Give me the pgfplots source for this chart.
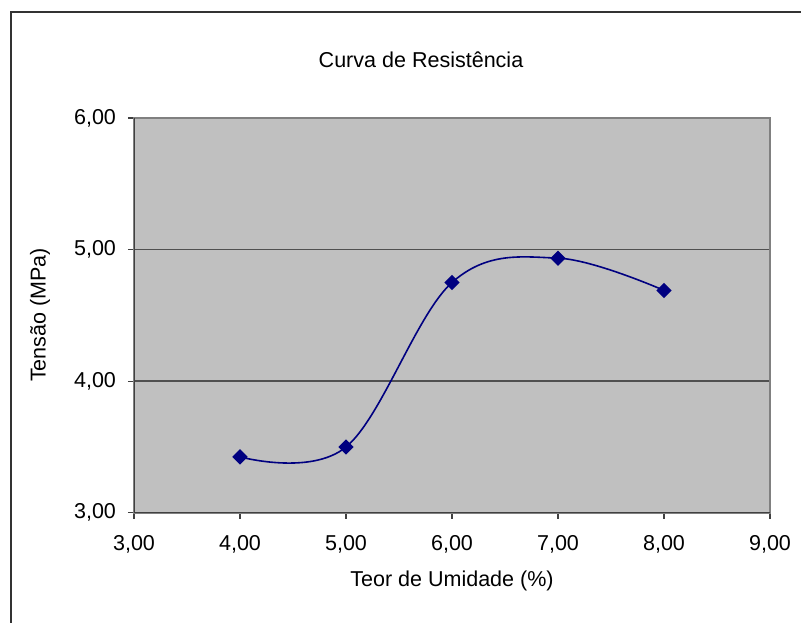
\documentclass[border=0pt]{standalone}
\usepackage{fontspec}
\setmainfont{Liberation Sans}
\usepackage{pgfplots}
\pgfplotsset{compat=1.18}

\definecolor{plotbg}{HTML}{C0C0C0}
\definecolor{framegray}{HTML}{808080}
\definecolor{axisdark}{HTML}{404040}
\definecolor{gridgray}{HTML}{505050}
\definecolor{navyline}{HTML}{000080}

\newcommand{\lblfont}{\fontsize{10.8}{13}\selectfont}

\begin{document}
\begin{tikzpicture}
% page = 801x623 px at 0.5bp per px
\useasboundingbox (0,0) rectangle (400.5bp,-311.5bp);
\draw[line width=1bp, black!80] (5.5bp,-330bp) -- (5.5bp,-6bp) -- (420bp,-6bp);

\node[font=\lblfont] at (210.5bp,-30bp) {Curva de Resistência};
\node[font=\lblfont, rotate=90] at (20bp,-157.5bp) {Tensão (MPa)};
\node[font=\lblfont] at (226bp,-290.5bp) {Teor de Umidade (\%)};

\begin{axis}[
    at={(67bp,-59bp)}, anchor=north west,
    width=318bp, height=197.4bp, scale only axis,
    xmin=3, xmax=9, ymin=3, ymax=6,
    xtick={3,4,5,6,7,8,9}, ytick={3,4,5,6},
    tick align=outside, xtick pos=bottom, ytick pos=left,
    major tick length=3bp,
    tick style={axisdark, line width=0.6bp},
    ymajorgrids=true,
    grid style={gridgray, line width=0.8bp},
    axis background/.style={fill=plotbg},
    axis line style={framegray, line width=1bp},
    tick label style={font=\lblfont},
    xticklabel style={yshift=-5bp},
    yticklabel style={xshift=-2.5bp},
    /pgf/number format/.cd, fixed, fixed zerofill, precision=2, use comma, assume math mode=true,
]
\addplot[navyline, line width=0.8bp, smooth, tension=0.6,
         mark=square*, mark size=2.3bp, mark options={rotate=45, fill=navyline, draw=navyline}]
  coordinates {(4,3.425) (5,3.50) (6,4.75) (7,4.935) (8,4.69)};
\draw[axisdark, line width=1bp] (rel axis cs:0,1) -- (rel axis cs:0,0) -- (rel axis cs:1,0);
\end{axis}
\end{tikzpicture}
\end{document}
